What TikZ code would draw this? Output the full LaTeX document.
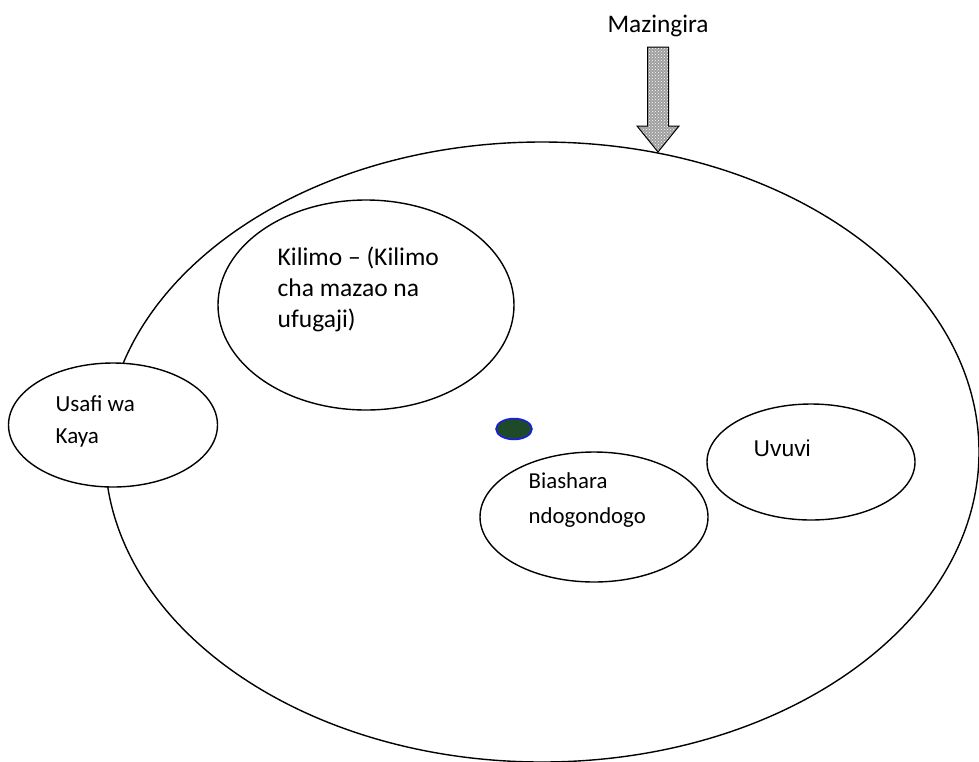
\documentclass[tikz,border=0pt]{standalone}
\usepackage{fontspec}
\setmainfont{Carlito}
\newfontfamily\arialfont{Liberation Sans}
\usepackage{tikz}
\usetikzlibrary{positioning,shapes.geometric,patterns}
\definecolor{dotgreen}{HTML}{1E4A2A}
\definecolor{dotblue}{HTML}{1A1AF0}

\begin{document}
\begin{tikzpicture}[x=1pt,y=-1pt,line width=1.4pt,
  blob/.style={ellipse,draw,fill=white,inner sep=0pt},
  txt/.style={inner sep=0pt,align=left,font=\fontsize{23}{31.5}\selectfont}]
\useasboundingbox (0,0) rectangle (979,761);
% outer region and the activities inside it
\node[blob,minimum width=874,minimum height=620] (env) at (542,452) {};
\node[blob,minimum width=296,minimum height=210] (kilimo) at (366,305) {};
\node[blob,minimum width=209,minimum height=124] (usafi) at (113,425) {};
\node[blob,minimum width=228,minimum height=130] (biashara) at (594,517) {};
\node[blob,minimum width=208,minimum height=116] (uvuvi) at (811,462) {};
\node[ellipse,draw=dotblue,fill=dotgreen,line width=1.5pt,inner sep=0pt,
  minimum width=36,minimum height=21] (dot) at (514,429) {};
\node[txt,anchor=north west,font=\fontsize{25.5}{31}\selectfont] (kilimotxt) at (277,246)
  {Kilimo -- (Kilimo\\cha mazao na\\ufugaji)};
\node[txt,anchor=north west] (usafitxt) at (55,395) {Usafi wa\\Kaya};
\node[txt,anchor=north west,font=\fontsize{22.8}{35}\selectfont] (biasharatxt) at (528,472) {Biashara\\ndogondogo};
\node[txt,anchor=north west,font=\arialfont\fontsize{22.8}{30}\selectfont] (uvuvitxt) at (753,439) {Uvuvi};
% incoming arrow
\node[txt,anchor=base,font=\fontsize{25.3}{30}\selectfont] (mazingira) at (658,32) {Mazingira};
\coordinate (tip) at (658,152);
\fill[gray!75] (tip) -- ++(-21,-26) -- ++(10.5,0) -- ++(0,-79) -- ++(21,0)
  -- ++(0,79) -- ++(10.5,0) -- cycle;
\fill[pattern=crosshatch dots,pattern color=white] (tip) -- ++(-21,-26) -- ++(10.5,0)
  -- ++(0,-79) -- ++(21,0) -- ++(0,79) -- ++(10.5,0) -- cycle;
\draw[line width=1pt] (tip) -- ++(-21,-26) -- ++(10.5,0) -- ++(0,-79) -- ++(21,0)
  -- ++(0,79) -- ++(10.5,0) -- cycle;
\end{tikzpicture}
\end{document}
